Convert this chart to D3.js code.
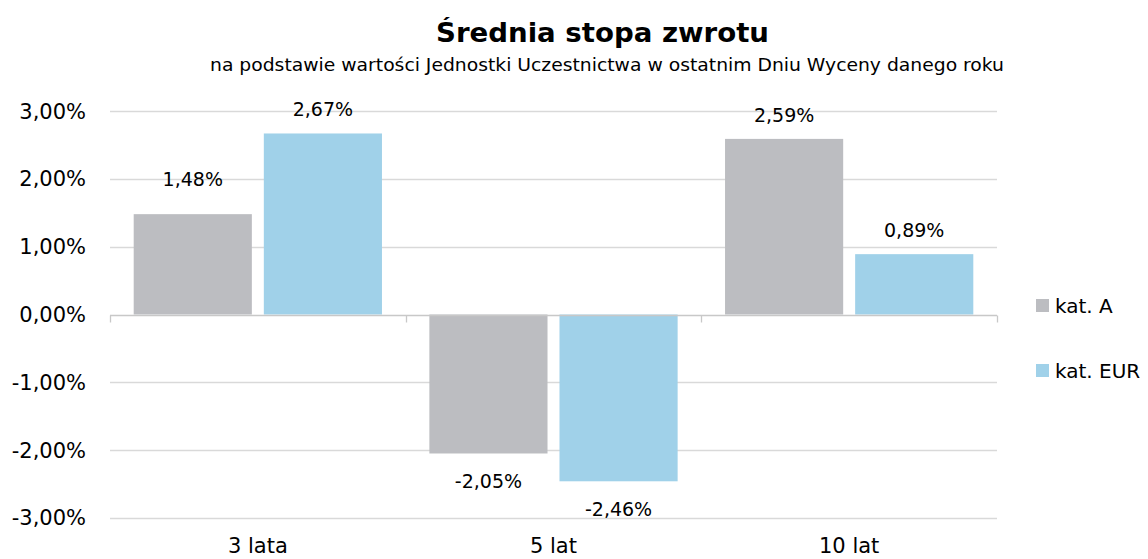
<!DOCTYPE html>
<html>
<head>
<meta charset="utf-8">
<script src="https://cdn.jsdelivr.net/npm/d3@7"></script>
<style>
  body { margin: 0; background: #fff; }
  text { font-family: "DejaVu Sans", Verdana, sans-serif; fill: #000; }
</style>
</head>
<body>
<div id="chart"></div>
<script>
// data
var categories = ["3 lata", "5 lat", "10 lat"];
var series = ["kat. A", "kat. EUR"];
var katA = [1.48, -2.05, 2.59];
var katEUR = [2.67, -2.46, 0.89];
var yTicks = [-3, -2, -1, 0, 1, 2, 3];

var colors = ["#BCBDC1", "#A0D1E9"];

var width = 1148, height = 559;

var rows = categories.map(function (c, i) {
  return { cat: c, values: [katA[i], katEUR[i]] };
});

var pl = d3.formatLocale({ decimal: ",", thousands: " ", grouping: [3], currency: ["", " zł"], minus: "-" });
var fmt = pl.format(".2f");

var svg = d3.select("#chart").append("svg")
  .attr("width", width)
  .attr("height", height);

// scales
var x = d3.scaleBand().domain(categories).range([110, 997]);
var xs = d3.scaleBand().domain(series).range([23.7, x.bandwidth() - 23.7]).paddingInner(0.092);
var y = d3.scaleLinear().domain([-3, 3]).range([517.9, 111.1]);

// gridlines
svg.append("g")
  .selectAll("line")
  .data(yTicks.filter(function (d) { return d !== 0; }))
  .enter().append("line")
  .attr("x1", 110).attr("x2", 997)
  .attr("y1", function (d) { return Math.round(y(d)) + 0.5; })
  .attr("y2", function (d) { return Math.round(y(d)) + 0.5; })
  .attr("stroke", "#D9D9D9")
  .attr("stroke-width", 1.3);

// y labels
svg.append("g")
  .selectAll("text")
  .data(yTicks)
  .enter().append("text")
  .attr("x", 86)
  .attr("y", function (d) { return y(d); })
  .attr("dy", "0.36em")
  .attr("text-anchor", "end")
  .style("font-size", "21px")
  .text(function (d) { return fmt(d) + "%"; });

// bars
var groups = svg.append("g")
  .selectAll("g")
  .data(rows)
  .enter().append("g")
  .attr("transform", function (d) { return "translate(" + x(d.cat) + ",0)"; });

groups.selectAll("rect")
  .data(function (d) { return d.values.map(function (v, j) { return { s: series[j], v: v, j: j }; }); })
  .enter().append("rect")
  .attr("x", function (d) { return xs(d.s); })
  .attr("width", xs.bandwidth())
  .attr("y", function (d) { return y(Math.max(0, d.v)); })
  .attr("height", function (d) { return Math.abs(y(d.v) - y(0)); })
  .attr("fill", function (d) { return colors[d.j]; });

// data labels (first one was nudged up by hand in the original)
var labelShift = { "3 lata|kat. A": -11 };
groups.selectAll("text")
  .data(function (d) { return d.values.map(function (v, j) { return { c: d.cat, s: series[j], v: v }; }); })
  .enter().append("text")
  .attr("x", function (d) { return xs(d.s) + xs.bandwidth() / 2; })
  .attr("y", function (d) {
    var base = d.v >= 0 ? y(d.v) - 17 : y(d.v) + 35;
    return base + (labelShift[d.c + "|" + d.s] || 0);
  })
  .attr("text-anchor", "middle")
  .style("font-size", "19px")
  .text(function (d) { return fmt(d.v) + "%"; });

// zero axis with category ticks
var zy = Math.round(y(0)) + 0.5;
svg.append("line")
  .attr("x1", 110).attr("x2", 997)
  .attr("y1", zy).attr("y2", zy)
  .attr("stroke", "#C8C8C8")
  .attr("stroke-width", 1.3);

svg.append("g")
  .selectAll("line")
  .data(categories.map(function (c) { return x(c); }).concat([x.range()[1]]))
  .enter().append("line")
  .attr("x1", function (d) { return Math.round(d) + 0.5; })
  .attr("x2", function (d) { return Math.round(d) + 0.5; })
  .attr("y1", zy).attr("y2", zy + 7)
  .attr("stroke", "#C8C8C8")
  .attr("stroke-width", 1.3);

// category labels
svg.append("g")
  .selectAll("text")
  .data(categories)
  .enter().append("text")
  .attr("x", function (d) { return x(d) + x.bandwidth() / 2; })
  .attr("y", 553)
  .attr("text-anchor", "middle")
  .style("font-size", "21px")
  .text(function (d) { return d; });

// title
svg.append("text")
  .attr("x", 602.5).attr("y", 42)
  .attr("text-anchor", "middle")
  .attr("textLength", 333)
  .attr("lengthAdjust", "spacingAndGlyphs")
  .style("font-size", "26px")
  .style("font-weight", "bold")
  .text("Średnia stopa zwrotu");

svg.append("text")
  .attr("x", 607).attr("y", 71)
  .attr("text-anchor", "middle")
  .attr("textLength", 794)
  .attr("lengthAdjust", "spacingAndGlyphs")
  .style("font-size", "18px")
  .text("na podstawie wartości Jednostki Uczestnictwa w ostatnim Dniu Wyceny danego roku");

// legend
var legend = svg.append("g")
  .selectAll("g")
  .data(series)
  .enter().append("g")
  .attr("transform", function (d, i) { return "translate(1036," + (299 + i * 65) + ")"; });

legend.append("rect")
  .attr("width", 13).attr("height", 13)
  .attr("fill", function (d, i) { return colors[i]; });

legend.append("text")
  .attr("x", 19).attr("y", 14)
  .style("font-size", "20px")
  .text(function (d) { return d; });
</script>
</body>
</html>
